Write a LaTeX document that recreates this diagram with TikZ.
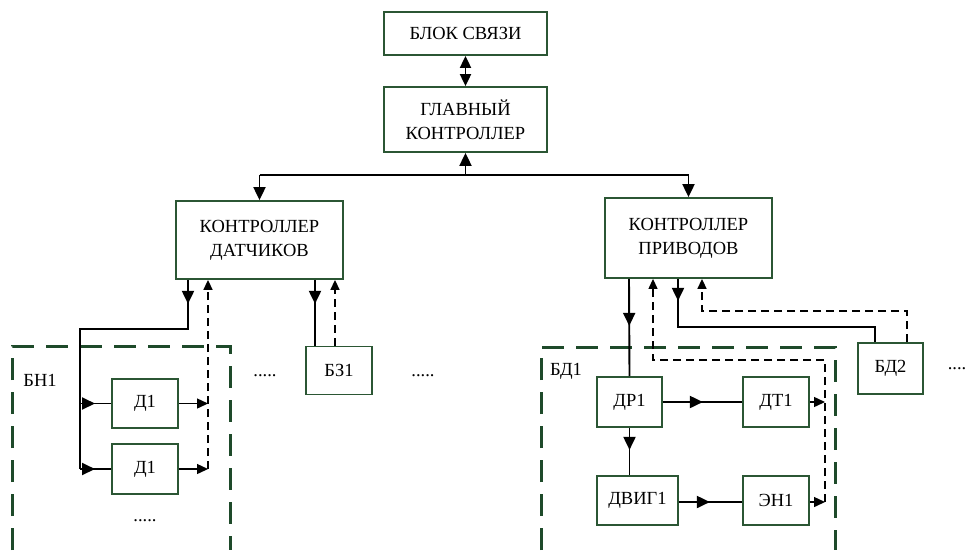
\documentclass[tikz,border=0pt]{standalone}
\usepackage{fontspec}
\setmainfont{Liberation Serif}
\usetikzlibrary{arrows.meta,decorations.markings}
\definecolor{boxgreen}{HTML}{2B5634}
\definecolor{grpgreen}{HTML}{1E4A2A}
\begin{document}
\begin{tikzpicture}[x=1pt,y=-1pt,
  blk/.style={draw=boxgreen,line width=1.8pt,fill=white,inner sep=0pt,align=center,font=\fontsize{18.5}{24}\selectfont},
  lbl/.style={inner sep=0pt,font=\fontsize{18.5}{20}\selectfont},
  conn/.style={line width=1.9pt},
  tip/.style={-{Triangle[length=13pt,width=12pt]}},
  stip/.style={-{Triangle[length=11pt,width=10pt]}},
  dtip/.style={-{Triangle[length=10pt,width=9pt]}},
  midarrow/.style={postaction={decorate},decoration={markings,mark=at position #1 with {\arrow{Triangle[length=13pt,width=12pt]}}}},
  fb/.style={line width=1.6pt,dash pattern=on 8pt off 5pt},
  fbthin/.style={line width=1.2pt,dash pattern=on 8pt off 5pt},
  grp/.style={draw=grpgreen,line width=3pt,dash pattern=on 22pt off 12pt},
]
\useasboundingbox (0,0) rectangle (968,550);
\fill[white] (0,0) rectangle (968,550);

% group frames
\draw[grp] (12,550) -- (12,346) -- (230,346) -- (230,550);
\draw[grp] (541,550) -- (541,347) -- (835,347) -- (835,550);

% blocks
\node[blk,minimum width=163pt,minimum height=43pt] (bs) at (465.5,33.5) {БЛОК СВЯЗИ};
\node[blk,minimum width=163pt,minimum height=65pt] (gk) at (465.5,119.5) {ГЛАВНЫЙ\\КОНТРОЛЛЕР};
\node[blk,minimum width=167pt,minimum height=78pt] (kd) at (259.5,240) {КОНТРОЛЛЕР\\ДАТЧИКОВ};
\node[blk,minimum width=167pt,minimum height=80pt] (kp) at (688.5,238) {КОНТРОЛЛЕР\\ПРИВОДОВ};
\node[blk,minimum width=66pt,minimum height=48pt] (bz) at (339,370.5) {БЗ1};
\node[blk,minimum width=66pt,minimum height=49pt] (d1a) at (145,403.5) {Д1};
\node[blk,minimum width=66pt,minimum height=50pt] (d1b) at (145,469) {Д1};
\node[blk,minimum width=65pt,minimum height=50pt] (dr) at (629.5,402) {ДР1};
\node[blk,minimum width=66pt,minimum height=50pt] (dt) at (776,402) {ДТ1};
\node[blk,minimum width=81pt,minimum height=49pt] (dv) at (637.5,500.5) {ДВИГ1};
\node[blk,minimum width=66pt,minimum height=49pt] (en) at (776,500.5) {ЭН1};
\node[blk,minimum width=65pt,minimum height=51pt] (bd2) at (890.5,368.5) {БД2};

% labels
\node[lbl] (bn1) at (40,380) {БН1};
\node[lbl] (bd1) at (566,371) {БД1};
\node[lbl] (dots1) at (265,376) {.....};
\node[lbl] (dots2) at (423,376) {.....};
\node[lbl] (dots3) at (145,521) {.....};
\node[lbl] (dots4) at (957,369) {....};

% top connections
\draw[conn,{Triangle[length=12pt,width=11pt]}-{Triangle[length=12pt,width=11pt]}] (bs.south) -- (gk.north);
\coordinate (busL) at (259.5,175);
\coordinate (busR) at (688.5,175);
\coordinate (busM) at (465.5,175);
\draw[conn] (busL) -- (busR);
\draw[conn,tip] (busM) -- (gk.south);
\draw[conn,tip] (busL) -- (kd.north);
\draw[conn,tip] (busR) -- (kp.north);

% sensors controller
\coordinate (ka) at (188,329);
\coordinate (kb) at (80,329);
\coordinate (j1) at (80,403.5);
\coordinate (j2) at (80,469);
\draw[conn,midarrow=24pt] ([xshift=-71.5pt]kd.south) -- (ka) -- (kb) -- (j2);
\draw[conn,midarrow=15pt] (j1) -- (d1a.west);
\draw[conn,midarrow=15pt] (j2) -- (d1b.west);
\coordinate (o1) at (208,403.5);
\coordinate (o2) at (208,469);
\draw[line width=1.4pt,stip] (d1a.east) -- (o1);
\draw[line width=1.4pt,stip] (d1b.east) -- (o2);
\draw[fb,dtip] (o2) -- ([xshift=-51.5pt]kd.south);
\draw[conn,midarrow=24pt] ([xshift=55.5pt]kd.south) -- ([xshift=-24pt]bz.north);
\draw[fb,dtip] ([xshift=-4pt]bz.north) -- ([xshift=75.5pt]kd.south);

% drives controller
\draw[conn,midarrow=47pt] ([xshift=-59.5pt]kp.south) -- (dr.north);
\coordinate (r1) at (825,402);
\coordinate (r2) at (825,502);
\coordinate (r3) at (825,360);
\coordinate (r4) at (653,360);
\draw[fbthin,dtip] (r2) -- (r3) -- (r4) -- ([xshift=-35.5pt]kp.south);
\draw[line width=1.4pt,stip] (dt.east) -- (r1);
\draw[line width=1.4pt,stip] ([yshift=-1.5pt]en.east) -- (r2);
\coordinate (s1) at (678,327);
\coordinate (s2) at (875,327);
\draw[conn,midarrow=22pt] ([xshift=-10.5pt]kp.south) -- (s1) -- (s2) -- ([xshift=-15.5pt]bd2.north);
\coordinate (t1) at (907,311);
\coordinate (t2) at (702,311);
\draw[fb,dtip] ([xshift=16.5pt]bd2.north) -- (t1) -- (t2) -- ([xshift=13.5pt]kp.south);
\draw[conn,midarrow=40pt] (dr.east) -- (dt.west);
\draw[conn,midarrow=22pt] (dr.south) -- ([xshift=-8pt]dv.north);
\draw[conn,midarrow=31pt] ([yshift=-1.5pt]dv.east) -- ([yshift=-1.5pt]en.west);
\end{tikzpicture}
\end{document}
